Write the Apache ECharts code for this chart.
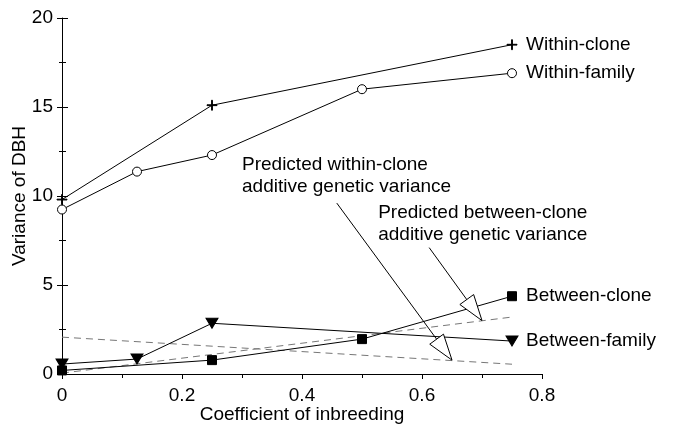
<!DOCTYPE html>
<html>
<head>
<meta charset="utf-8">
<script src="https://cdn.jsdelivr.net/npm/echarts@6/dist/echarts.min.js"></script>
<style>html,body{margin:0;padding:0;background:#fff;}#c{width:674px;height:427px;}</style>
</head>
<body>
<div id="c"></div>
<script>
// ---- data ----
var withinCloneF = [0, 0.25, 0.75];
var withinCloneV = [9.8, 15.1, 18.5];
var withinFamilyF = [0, 0.125, 0.25, 0.5, 0.75];
var withinFamilyV = [9.24, 11.37, 12.3, 16.0, 16.9];
var betweenCloneF = [0, 0.25, 0.5, 0.75];
var betweenCloneV = [0.2, 0.78, 1.96, 4.37];
var betweenFamilyF = [0, 0.125, 0.25, 0.75];
var betweenFamilyV = [0.56, 0.84, 2.85, 1.85];
var predWithinF = [0, 0.75];
var predWithinV = [2.07, 0.55];
var predBetweenF = [0, 0.75];
var predBetweenV = [0.05, 3.2];
// annotation arrows: [fromF, fromV, toF, toV]
var arrowWithin = [0.458, 9.6, 0.65, 0.78];
var arrowBetween = [0.612, 7.1, 0.70, 3.0];
// annotation texts: [F, V (top), text]
var textWithin = [0.300, 12.35, 'Predicted within-clone\nadditive genetic variance'];
var textBetween = [0.527, 9.7, 'Predicted between-clone\nadditive genetic variance'];
var xTicks = [0, 0.2, 0.4, 0.6, 0.8];
var yTicks = [0, 5, 10, 15, 20];

function zip(a, b) { return a.map(function (v, i) { return [v, b[i]]; }); }

var FONT = 'Liberation Sans';
var FS = 19;
var chart = echarts.init(document.getElementById('c'), null, {renderer: 'canvas'});

var baseX = {
  type: 'value', min: xTicks[0], max: xTicks[xTicks.length - 1], interval: 0.2,
  splitLine: {show: false}
};
var baseY = {
  type: 'value', min: yTicks[0], max: yTicks[yTicks.length - 1], interval: 5,
  splitLine: {show: false}
};

function arrowRender(params, api) {
  var s = api.coord([api.value(0), api.value(1)]);
  var e = api.coord([api.value(2), api.value(3)]);
  var dx = e[0] - s[0], dy = e[1] - s[1];
  var len = Math.sqrt(dx * dx + dy * dy);
  var ux = dx / len, uy = dy / len;
  var hl = 26, hw = 8.5;
  var bx = e[0] - ux * hl, by = e[1] - uy * hl;
  var px = -uy, py = ux;
  return {
    type: 'group',
    children: [
      {type: 'line', shape: {x1: s[0], y1: s[1], x2: e[0] - ux * 4, y2: e[1] - uy * 4},
       style: {stroke: '#000', lineWidth: 1}},
      {type: 'polygon', shape: {points: [[e[0], e[1]], [bx + px * hw, by + py * hw], [bx - px * hw, by - py * hw]]},
       style: {fill: '#fff', stroke: '#000', lineWidth: 1}}
    ]
  };
}
function textRender(params, api) {
  var p = api.coord([api.value(0), api.value(1)]);
  var d = params.dataIndex;
  var t = [textWithin, textBetween][d][2];
  return {
    type: 'text', x: p[0], y: p[1],
    style: {text: t, fill: '#000', font: FS + 'px "' + FONT + '"', lineHeight: 22, verticalAlign: 'top', align: 'left'}
  };
}

var lineCommon = {
  type: 'line', xAxisIndex: 0, yAxisIndex: 0, animation: false,
  lineStyle: {color: '#000', width: 1},
  itemStyle: {color: '#000', borderColor: '#000'},
  showAllSymbol: true,
  endLabel: {show: true, formatter: '{a}', color: '#000', fontFamily: FONT, fontSize: FS, distance: 14},
  emphasis: {disabled: true}
};

var option = {
  animation: false,
  backgroundColor: '#fff',
  grid: {left: 62, right: 132, top: 18, bottom: 53, containLabel: false, outerBoundsMode: 'none'},
  xAxis: [
    Object.assign({}, baseX, {
      name: 'Coefficient of inbreeding', nameLocation: 'middle', nameGap: 31, nameMoveOverlap: false,
      nameTextStyle: {color: '#000', fontFamily: FONT, fontSize: FS},
      axisLine: {show: true, lineStyle: {color: '#000', width: 1}},
      axisTick: {show: true, inside: false, length: 4, lineStyle: {color: '#000'}},
      minorTick: {show: true, splitNumber: 2, length: 4, lineStyle: {color: '#000'}},
      axisLabel: {color: '#000', fontFamily: FONT, fontSize: FS, margin: 12,
        formatter: function (v) { return v === 0 ? '0' : String(+v.toFixed(1)); }}
    }),
    Object.assign({}, baseX, {
      axisLine: {show: false},
      axisTick: {show: true, inside: true, length: 5, lineStyle: {color: '#000'}},
      minorTick: {show: true, splitNumber: 2, length: 4, lineStyle: {color: '#000'}},
      axisLabel: {show: false}
    })
  ],
  yAxis: [
    Object.assign({}, baseY, {
      name: 'Variance of DBH', nameLocation: 'middle', nameGap: 33, nameMoveOverlap: false,
      nameTextStyle: {color: '#000', fontFamily: FONT, fontSize: FS},
      axisLine: {show: true, lineStyle: {color: '#000', width: 1}},
      axisTick: {show: true, inside: false, length: 5, lineStyle: {color: '#000'}},
      minorTick: {show: true, splitNumber: 2, length: 3, lineStyle: {color: '#000'}},
      axisLabel: {color: '#000', fontFamily: FONT, fontSize: FS, margin: 9}
    }),
    Object.assign({}, baseY, {
      position: 'left',
      axisLine: {show: false},
      axisTick: {show: true, inside: true, length: 6, lineStyle: {color: '#000'}},
      minorTick: {show: true, splitNumber: 2, length: 4, lineStyle: {color: '#000'}},
      axisLabel: {show: false}
    })
  ],
  series: [
    {type: 'line', name: 'predWithin', data: zip(predWithinF, predWithinV), symbol: 'none', animation: false,
     lineStyle: {color: '#777', width: 1, type: [7, 5]}, emphasis: {disabled: true}, silent: true, z: 1},
    {type: 'line', name: 'predBetween', data: zip(predBetweenF, predBetweenV), symbol: 'none', animation: false,
     lineStyle: {color: '#777', width: 1, type: [7, 5]}, emphasis: {disabled: true}, silent: true, z: 1},
    Object.assign({}, lineCommon, {name: 'Within-clone', data: zip(withinCloneF, withinCloneV),
      symbol: 'path://M4.6,0h0.8v10h-0.8zM0,4.6h10v0.8h-10z', symbolSize: 10}),
    Object.assign({}, lineCommon, {name: 'Within-family', data: zip(withinFamilyF, withinFamilyV),
      symbol: 'circle', symbolSize: 9, itemStyle: {color: '#fff', borderColor: '#000', borderWidth: 1}}),
    Object.assign({}, lineCommon, {name: 'Between-clone', data: zip(betweenCloneF, betweenCloneV),
      symbol: 'rect', symbolSize: 9}),
    Object.assign({}, lineCommon, {name: 'Between-family', data: zip(betweenFamilyF, betweenFamilyV),
      symbol: 'triangle', symbolRotate: 180, symbolSize: [12, 10]}),
    {type: 'custom', name: 'arrows', renderItem: arrowRender, data: [arrowWithin, arrowBetween],
     silent: true, animation: false, z: 5, clip: false},
    {type: 'custom', name: 'texts', renderItem: textRender,
     data: [[textWithin[0], textWithin[1]], [textBetween[0], textBetween[1]]],
     silent: true, animation: false, z: 5, clip: false}
  ]
};
chart.setOption(option);
</script>
</body>
</html>
